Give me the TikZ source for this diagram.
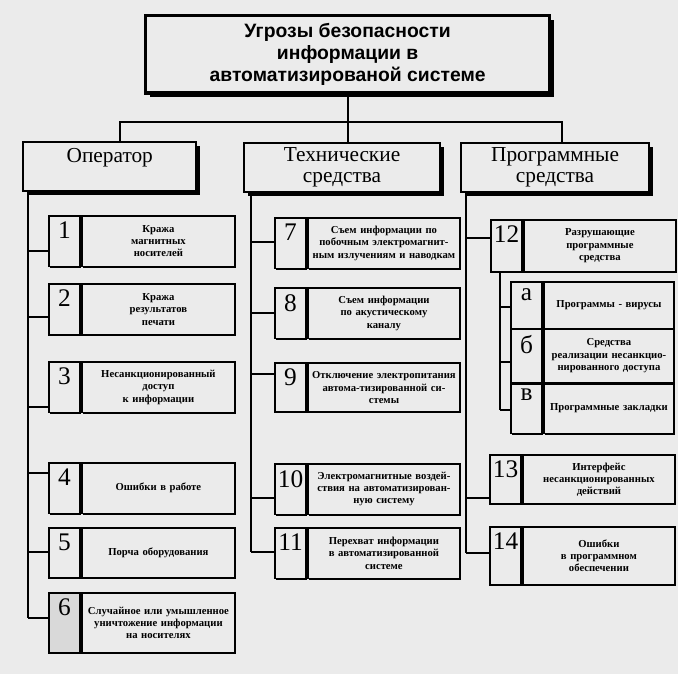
\documentclass[tikz,border=0pt]{standalone}
\usepackage{fontspec}
\setmainfont{Liberation Serif}
\newfontfamily\titlefont{Liberation Sans}
\usetikzlibrary{shadows}
\definecolor{paper}{gray}{0.92}

\begin{document}
\begin{tikzpicture}[x=.75pt, y=-.75pt]
\tikzstyle{box}=[draw, fill=paper, line width=1.3pt, inner sep=2pt, anchor=north west]
\tikzstyle{head}=[box, line width=1.6pt, align=center, font=\fontsize{16}{15.75}\selectfont, minimum height=37pt, drop shadow={shadow xshift=2.6pt, shadow yshift=-2.6pt, fill=black, opacity=1}]
\tikzstyle{numcell}=[box, minimum width=23.5pt, minimum height=38pt, drop shadow={shadow xshift=.8pt, shadow yshift=-.8pt, fill=black, opacity=1}]
\tikzstyle{numlbl}=[anchor=north, inner sep=0pt, yshift=-5.2pt, font=\fontsize{19}{19}\selectfont]
\tikzstyle{txtcell}=[box, minimum width=114.75pt, minimum height=38pt, text width=110pt, align=center, font=\bfseries\fontsize{8}{9.2}\selectfont, drop shadow={shadow xshift=.8pt, shadow yshift=-.8pt, fill=black, opacity=1}]
\tikzstyle{wire}=[line width=1.6pt]

\fill[paper] (0,0) rectangle (678,674);
\useasboundingbox (0,0) rectangle (678,674);

\node[box, line width=2.4pt, minimum width=303pt, minimum height=58pt, align=center,
  font=\titlefont\bfseries\fontsize{14.5}{16.5}\selectfont,
  drop shadow={shadow xshift=3pt, shadow yshift=-3pt, fill=black, opacity=1}]
  (title) at (144,14) {Угрозы безопасности\\информации в\\автоматизированой системе};

\node[head, minimum width=130pt, text height=11pt, text depth=17pt] (op) at (22,141) {Оператор};
\node[head, minimum width=147pt] (tech) at (243,142) {Технические\\средства};
\node[head, minimum width=141pt] (prog) at (460,142) {Программные\\средства};

\coordinate (jl) at (120,122);
\coordinate (jr) at (562,122);
\draw[wire] (title.south) -- (title.south |- tech.north);
\draw[wire] (jl |- op.north) -- (jl) -- (jr) -- (jr |- prog.north);

\node[numcell, label={[numlbl]north:1}] (c1) at (48,215) {};
\node[txtcell] (t1) at (c1.north east) {Кража\\магнитных\\носителей};
\node[numcell, minimum height=38.5pt, label={[numlbl]north:2}] (c2) at (48,283) {};
\node[txtcell, minimum height=38.5pt] (t2) at (c2.north east) {Кража\\результатов\\печати};
\node[numcell, label={[numlbl]north:3}] (c3) at (48,361) {};
\node[txtcell] (t3) at (c3.north east) {Несанкционированный\\доступ\\к информации};
\node[numcell, label={[numlbl]north:4}] (c4) at (48,462) {};
\node[txtcell] (t4) at (c4.north east) {Ошибки в работе};
\node[numcell, minimum height=37.5pt, label={[numlbl]north:5}] (c5) at (48,527) {};
\node[txtcell, minimum height=37.5pt] (t5) at (c5.north east) {Порча оборудования};
\node[numcell, minimum height=45pt, fill=gray!30, label={[numlbl]north:6}] (c6) at (48,592) {};
\node[txtcell, minimum height=45pt] (t6) at (c6.north east) {Случайное или умышленное\\уничтожение информации\\на носителях};

\node[numcell, label={[numlbl]north:7}] (c7) at (274,217) {};
\node[txtcell, minimum width=114pt] (t7) at (c7.north east) {Съем информации по\\побочным электромагнит-\\ным излучениям и наводкам};
\node[numcell, label={[numlbl]north:8}] (c8) at (274,287) {};
\node[txtcell, minimum width=114pt] (t8) at (c8.north east) {Съем информации\\по акустическому\\каналу};
\node[numcell, minimum height=37pt, label={[numlbl]north:9}] (c9) at (274,362) {};
\node[txtcell, minimum width=114pt, minimum height=37pt] (t9) at (c9.north east) {Отключение электропитания\\автома-тизированной си-\\стемы};
\node[numcell, label={[numlbl]north:10}] (c10) at (274,463) {};
\node[txtcell, minimum width=114pt] (t10) at (c10.north east) {Электромагнитные воздей-\\ствия на автоматизирован-\\ную систему};
\node[numcell, label={[numlbl]north:11}] (c11) at (274,527) {};
\node[txtcell, minimum width=114pt] (t11) at (c11.north east) {Перехват информации\\в автоматизированной\\системе};

\node[numcell, minimum height=39pt, label={[numlbl]north:12}] (c12) at (490,219) {};
\node[txtcell, minimum width=112.5pt, minimum height=39pt] (t12) at (c12.north east) {Разрушающие\\программные\\средства};
\node[numcell, minimum height=35pt, label={[numlbl]north:а}] (ca) at (510,281) {};
\node[txtcell, minimum width=97.5pt, text width=93pt, minimum height=35pt] (ta) at (ca.north east) {Программы - вирусы};
\node[numcell, minimum height=40.5pt, label={[numlbl]north:б}] (cb) at (510,328) {};
\node[txtcell, minimum width=97.5pt, text width=93pt, minimum height=40.5pt] (tb) at (cb.north east) {Средства\\реализации несанкцио-\\нированного доступа};
\node[numcell, label={[numlbl]north:в}] (cv) at (510,382) {};
\node[txtcell, minimum width=97.5pt, text width=93pt] (tv) at (cv.north east) {Программные закладки};
\draw[line width=2.4pt] (cb.south west) -- (tb.south east);
\node[numcell, minimum height=37pt, label={[numlbl]north:13}] (c13) at (489,454) {};
\node[txtcell, minimum width=113pt, minimum height=37pt] (t13) at (c13.north east) {Интерфейс\\несанкционированных\\действий};
\node[numcell, minimum height=43.5pt, label={[numlbl]north:14}] (c14) at (489,526) {};
\node[txtcell, minimum width=113pt, minimum height=43.5pt] (t14) at (c14.north east) {Ошибки\\в программном\\обеспечении};

\coordinate (s1) at (28,251);
\coordinate (s2) at (28,317);
\coordinate (s3) at (28,407);
\coordinate (s4) at (28,473);
\coordinate (s5) at (28,552);
\coordinate (s6) at (28,618);
\draw[wire] (op.south -| s1) -- (s6);
\draw[wire] (s1) -- (s1 -| c1.west) (s2) -- (s2 -| c2.west) (s3) -- (s3 -| c3.west)
  (s4) -- (s4 -| c4.west) (s5) -- (s5 -| c5.west) (s6) -- (s6 -| c6.west);

\coordinate (s7) at (251,242);
\coordinate (s8) at (251,313);
\coordinate (s9) at (251,374);
\coordinate (s10) at (251,498);
\coordinate (s11) at (251,552);
\draw[wire] (tech.south -| s7) -- (s11);
\draw[wire] (s7) -- (s7 -| c7.west) (s8) -- (s8 -| c8.west) (s9) -- (s9 -| c9.west)
  (s10) -- (s10 -| c10.west) (s11) -- (s11 -| c11.west);

\coordinate (s12) at (466,238);
\coordinate (s13) at (466,498);
\coordinate (s14) at (466,553);
\draw[wire] (prog.south -| s12) -- (s14);
\draw[wire] (s12) -- (s12 -| c12.west) (s13) -- (s13 -| c13.west) (s14) -- (s14 -| c14.west);

\coordinate (sa) at (500,307);
\coordinate (sb) at (500,362);
\coordinate (sv) at (500,410);
\draw[wire] (c12.south -| sa) -- (sv);
\draw[wire] (sa) -- (sa -| ca.west) (sb) -- (sb -| cb.west) (sv) -- (sv -| cv.west);

\end{tikzpicture}
\end{document}
